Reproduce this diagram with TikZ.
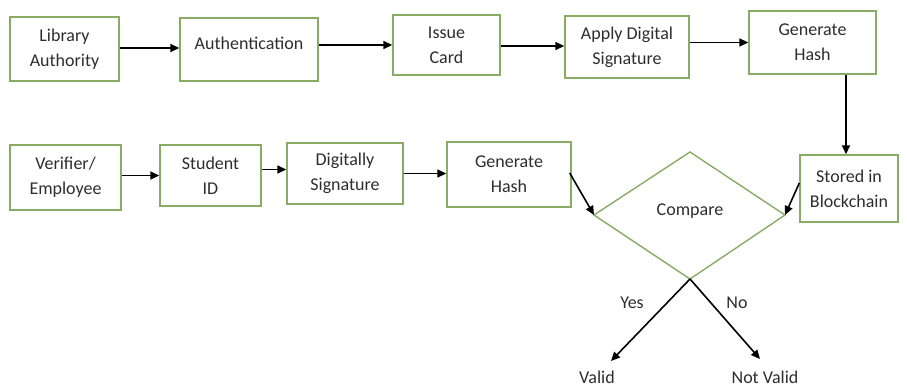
\documentclass[tikz,border=0pt]{standalone}
\usepackage{fontspec}
\setmainfont{Carlito}
\usetikzlibrary{arrows.meta}
\definecolor{boxgreen}{RGB}{137,172,100}
\definecolor{inkgray}{RGB}{45,45,45}
\tikzset{
  txt/.style={font=\fontsize{18}{25}\selectfont, text=inkgray, align=center, inner sep=0pt},
  stepbox/.style={txt, draw=boxgreen, line width=1.4pt, rectangle},
  outcome/.style={font=\fontsize{18}{25}\selectfont, text=inkgray, inner sep=0pt, text depth=0pt, anchor=base},
  flow/.style={line width=1.6pt, draw=black, -{Triangle[length=9pt,width=8pt]}},
}
\begin{document}
\begin{tikzpicture}[x=1pt,y=-1pt]
\useasboundingbox (0,0) rectangle (907,388);

% top row: issuing side
\node[stepbox, minimum width=109pt, minimum height=64pt] (lib) at (64.5,49) {Library\\Authority};
\node[stepbox, minimum width=138pt, minimum height=63pt] (auth) at (249,49.5) {};
\node[txt] (authtxt) at ([yshift=6pt]auth.center) {Authentication};
\node[stepbox, minimum width=107pt, minimum height=60pt] (issue) at (446.5,45) {Issue\\Card};
\node[stepbox, minimum width=124pt, minimum height=62pt] (apply) at (627,47) {Apply Digital\\Signature};
\node[stepbox, minimum width=127pt, minimum height=63pt] (gen1) at (812.5,42.5) {Generate\\Hash};

% second row: verifying side
\node[stepbox, minimum width=111pt, minimum height=65pt] (verif) at (65.5,177.5) {Verifier/\\Employee};
\node[stepbox, minimum width=101pt, minimum height=61pt] (stud) at (210.5,175.5) {Student\\ID};
\node[stepbox, minimum width=116pt, minimum height=61pt] (digi) at (345,173.5) {Digitally\\Signature};
\node[stepbox, minimum width=124pt, minimum height=65pt] (gen2) at (509,174.5) {Generate\\Hash};
\node[stepbox, minimum width=98pt, minimum height=67pt] (stored) at (849,188.5) {Stored in\\Blockchain};

% decision diamond
\coordinate (cmpT) at (690,152);
\coordinate (cmpR) at (785,215);
\coordinate (cmpB) at (690,279);
\coordinate (cmpL) at (594,215);
\draw[draw=boxgreen, line width=1.4pt, line join=miter] (cmpT) -- (cmpR) -- (cmpB) -- (cmpL) -- cycle;
\node[txt] (cmp) at (690,211) {Compare};

% outcomes
\coordinate (yesEnd) at (611,361);
\coordinate (noEnd) at (760,359);
\node[outcome] (valid) at (597,383) {Valid};
\node[outcome] (notvalid) at (765,383) {Not Valid};
\node[txt] (yes) at (632,303) {Yes};
\node[txt] (no) at (737,303) {No};

% connectors, top row
\draw[flow] ([yshift=1pt]lib.east) -- ([yshift=1pt]lib.east -| auth.west);
\draw[flow] (auth.east |- issue.west) -- (issue.west);
\draw[flow] ([yshift=-1pt]issue.east) -- ([yshift=-1pt]issue.east -| apply.west);
\draw[flow] (apply.east |- gen1.west) -- (gen1.west);
\draw[flow] ([xshift=-3pt]stored.north |- gen1.south) -- ([xshift=-3pt]stored.north);

% connectors, second row
\draw[flow] (stud.west -| verif.east) -- (stud.west);
\draw[flow] ([yshift=4pt]digi.west -| stud.east) -- ([yshift=4pt]digi.west);
\draw[flow] (digi.east) -- (digi.east -| gen2.west);
\draw[flow] ([xshift=-2pt,yshift=1.5pt]gen2.east) -- (cmpL);
\draw[flow] ([yshift=5.5pt]stored.west) -- (cmpR);
\draw[flow] (cmpB) -- (yesEnd);
\draw[flow] (cmpB) -- (noEnd);
\end{tikzpicture}
\end{document}
